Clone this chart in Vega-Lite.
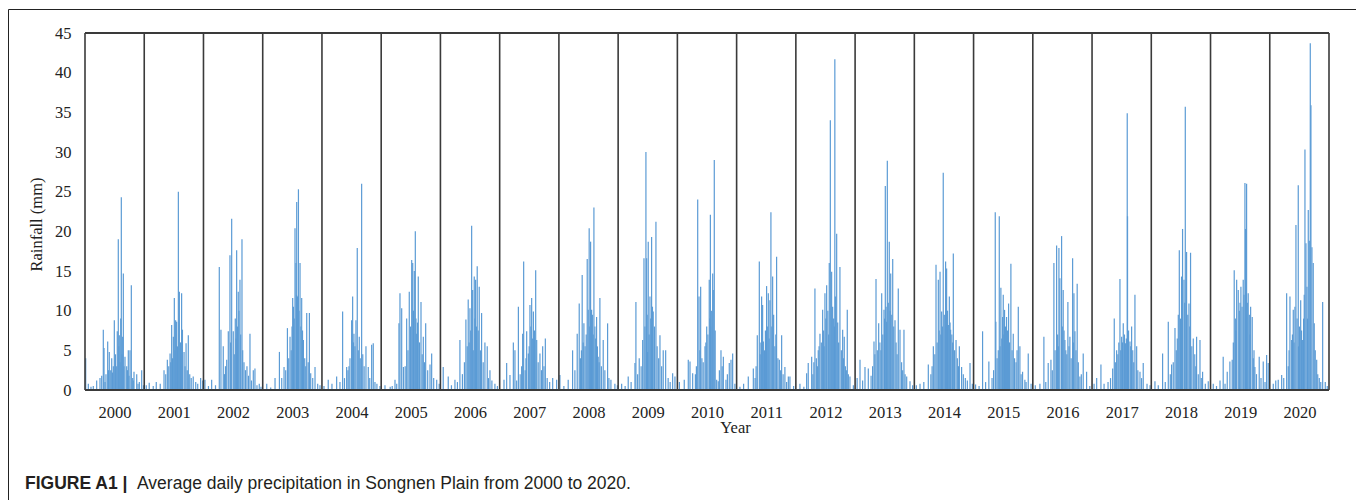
{
  "$schema": "https://vega.github.io/schema/vega-lite/v6.json",
  "width": 1348,
  "height": 520,
  "padding": {"left": 8, "top": 9, "right": 0, "bottom": 0},
  "background": "white",
  "config": {"view": {"stroke": "#222", "strokeWidth": 1}},
  "datasets": {
    "rain": [
      {"year":2000.012,"rain":4.0},{"year":2000.056,"rain":0.8},{"year":2000.101,"rain":0.4},{"year":2000.140,"rain":0.5},{"year":2000.197,"rain":1.2},{"year":2000.253,"rain":1.5},{"year":2000.282,"rain":1.8},{"year":2000.309,"rain":7.6},{"year":2000.321,"rain":5.3},{"year":2000.338,"rain":1.0},{"year":2000.354,"rain":2.0},{"year":2000.383,"rain":6.1},{"year":2000.397,"rain":2.5},{"year":2000.410,"rain":4.8},{"year":2000.434,"rain":2.5},{"year":2000.451,"rain":4.0},{"year":2000.464,"rain":2.2},{"year":2000.478,"rain":3.0},{"year":2000.495,"rain":8.8},{"year":2000.515,"rain":4.5},{"year":2000.535,"rain":3.0},{"year":2000.545,"rain":7.4},{"year":2000.562,"rain":19.0},{"year":2000.571,"rain":5.5},{"year":2000.579,"rain":6.9},{"year":2000.591,"rain":3.5},{"year":2000.603,"rain":9.0},{"year":2000.613,"rain":24.3},{"year":2000.625,"rain":4.5},{"year":2000.636,"rain":6.7},{"year":2000.647,"rain":14.7},{"year":2000.658,"rain":3.0},{"year":2000.675,"rain":4.2},{"year":2000.704,"rain":3.0},{"year":2000.717,"rain":2.5},{"year":2000.731,"rain":5.0},{"year":2000.743,"rain":1.8},{"year":2000.760,"rain":5.0},{"year":2000.782,"rain":13.2},{"year":2000.805,"rain":1.5},{"year":2000.815,"rain":1.2},{"year":2000.827,"rain":2.3},{"year":2000.873,"rain":2.0},{"year":2000.895,"rain":0.8},{"year":2000.917,"rain":1.0},{"year":2000.957,"rain":2.5},{"year":2000.987,"rain":0.6},
      {"year":2001.034,"rain":0.6},{"year":2001.084,"rain":0.9},{"year":2001.152,"rain":0.5},{"year":2001.203,"rain":1.0},{"year":2001.270,"rain":0.8},{"year":2001.334,"rain":2.5},{"year":2001.363,"rain":2.0},{"year":2001.390,"rain":3.8},{"year":2001.414,"rain":3.0},{"year":2001.436,"rain":4.6},{"year":2001.447,"rain":3.5},{"year":2001.463,"rain":8.2},{"year":2001.478,"rain":4.0},{"year":2001.491,"rain":6.7},{"year":2001.508,"rain":11.6},{"year":2001.520,"rain":5.0},{"year":2001.530,"rain":8.8},{"year":2001.547,"rain":8.6},{"year":2001.560,"rain":5.5},{"year":2001.576,"rain":25.0},{"year":2001.593,"rain":12.4},{"year":2001.611,"rain":6.0},{"year":2001.621,"rain":4.5},{"year":2001.631,"rain":12.2},{"year":2001.645,"rain":7.6},{"year":2001.672,"rain":4.8},{"year":2001.689,"rain":3.0},{"year":2001.706,"rain":5.9},{"year":2001.726,"rain":2.5},{"year":2001.744,"rain":6.9},{"year":2001.768,"rain":2.0},{"year":2001.793,"rain":1.5},{"year":2001.827,"rain":1.7},{"year":2001.869,"rain":1.0},{"year":2001.903,"rain":0.8},{"year":2001.952,"rain":1.5},{"year":2001.987,"rain":1.2},
      {"year":2002.025,"rain":1.3},{"year":2002.084,"rain":0.5},{"year":2002.138,"rain":1.3},{"year":2002.203,"rain":0.6},{"year":2002.267,"rain":15.5},{"year":2002.295,"rain":7.6},{"year":2002.334,"rain":5.5},{"year":2002.354,"rain":2.0},{"year":2002.371,"rain":3.0},{"year":2002.392,"rain":3.8},{"year":2002.419,"rain":7.4},{"year":2002.447,"rain":17.0},{"year":2002.459,"rain":6.0},{"year":2002.476,"rain":21.6},{"year":2002.503,"rain":7.4},{"year":2002.520,"rain":4.5},{"year":2002.537,"rain":9.0},{"year":2002.549,"rain":6.5},{"year":2002.560,"rain":17.6},{"year":2002.574,"rain":8.0},{"year":2002.587,"rain":12.4},{"year":2002.599,"rain":10.0},{"year":2002.616,"rain":13.9},{"year":2002.628,"rain":7.0},{"year":2002.650,"rain":19.0},{"year":2002.662,"rain":5.0},{"year":2002.684,"rain":3.5},{"year":2002.709,"rain":2.5},{"year":2002.734,"rain":3.0},{"year":2002.760,"rain":1.8},{"year":2002.785,"rain":7.1},{"year":2002.810,"rain":1.2},{"year":2002.841,"rain":2.5},{"year":2002.869,"rain":2.7},{"year":2002.903,"rain":0.6},{"year":2002.942,"rain":0.8},{"year":2002.971,"rain":0.4},
      {"year":2003.068,"rain":0.8},{"year":2003.135,"rain":0.3},{"year":2003.208,"rain":1.5},{"year":2003.282,"rain":4.8},{"year":2003.321,"rain":1.5},{"year":2003.360,"rain":2.9},{"year":2003.388,"rain":2.5},{"year":2003.417,"rain":7.8},{"year":2003.439,"rain":4.0},{"year":2003.461,"rain":6.7},{"year":2003.481,"rain":5.0},{"year":2003.495,"rain":8.0},{"year":2003.506,"rain":11.6},{"year":2003.518,"rain":10.5},{"year":2003.532,"rain":9.0},{"year":2003.545,"rain":20.4},{"year":2003.562,"rain":16.0},{"year":2003.571,"rain":12.0},{"year":2003.574,"rain":23.7},{"year":2003.586,"rain":11.8},{"year":2003.594,"rain":11.0},{"year":2003.603,"rain":25.3},{"year":2003.613,"rain":10.0},{"year":2003.630,"rain":16.0},{"year":2003.645,"rain":8.0},{"year":2003.658,"rain":11.6},{"year":2003.672,"rain":7.5},{"year":2003.687,"rain":6.3},{"year":2003.709,"rain":4.0},{"year":2003.726,"rain":3.0},{"year":2003.743,"rain":9.7},{"year":2003.768,"rain":3.5},{"year":2003.788,"rain":9.7},{"year":2003.810,"rain":2.1},{"year":2003.844,"rain":1.5},{"year":2003.883,"rain":2.9},{"year":2003.928,"rain":0.8},{"year":2003.967,"rain":0.6},
      {"year":2004.034,"rain":0.5},{"year":2004.106,"rain":1.3},{"year":2004.169,"rain":0.8},{"year":2004.248,"rain":1.7},{"year":2004.304,"rain":1.0},{"year":2004.349,"rain":9.9},{"year":2004.380,"rain":1.5},{"year":2004.417,"rain":2.9},{"year":2004.439,"rain":2.5},{"year":2004.456,"rain":3.0},{"year":2004.473,"rain":4.0},{"year":2004.501,"rain":8.8},{"year":2004.518,"rain":11.8},{"year":2004.532,"rain":6.0},{"year":2004.540,"rain":7.1},{"year":2004.557,"rain":5.5},{"year":2004.574,"rain":8.8},{"year":2004.596,"rain":17.9},{"year":2004.613,"rain":5.0},{"year":2004.630,"rain":6.7},{"year":2004.647,"rain":4.0},{"year":2004.670,"rain":26.0},{"year":2004.689,"rain":4.5},{"year":2004.712,"rain":3.0},{"year":2004.743,"rain":5.5},{"year":2004.782,"rain":2.9},{"year":2004.807,"rain":1.5},{"year":2004.839,"rain":5.7},{"year":2004.866,"rain":5.9},{"year":2004.895,"rain":1.0},{"year":2004.928,"rain":0.8},{"year":2004.979,"rain":0.5},
      {"year":2005.064,"rain":0.6},{"year":2005.152,"rain":0.4},{"year":2005.186,"rain":0.5},{"year":2005.233,"rain":1.3},{"year":2005.262,"rain":0.8},{"year":2005.300,"rain":8.4},{"year":2005.317,"rain":12.2},{"year":2005.346,"rain":10.3},{"year":2005.375,"rain":2.9},{"year":2005.405,"rain":3.0},{"year":2005.430,"rain":9.0},{"year":2005.452,"rain":5.0},{"year":2005.474,"rain":12.4},{"year":2005.495,"rain":8.0},{"year":2005.515,"rain":16.4},{"year":2005.532,"rain":16.0},{"year":2005.545,"rain":10.0},{"year":2005.559,"rain":15.0},{"year":2005.576,"rain":20.0},{"year":2005.587,"rain":9.0},{"year":2005.599,"rain":7.1},{"year":2005.613,"rain":8.5},{"year":2005.626,"rain":14.3},{"year":2005.647,"rain":6.0},{"year":2005.672,"rain":11.1},{"year":2005.692,"rain":4.5},{"year":2005.711,"rain":6.7},{"year":2005.731,"rain":3.5},{"year":2005.751,"rain":8.4},{"year":2005.785,"rain":2.5},{"year":2005.824,"rain":3.2},{"year":2005.852,"rain":4.6},{"year":2005.886,"rain":1.5},{"year":2005.937,"rain":1.3},{"year":2005.979,"rain":0.8},
      {"year":2006.047,"rain":2.9},{"year":2006.132,"rain":1.7},{"year":2006.186,"rain":0.6},{"year":2006.245,"rain":1.3},{"year":2006.287,"rain":1.0},{"year":2006.329,"rain":6.3},{"year":2006.371,"rain":2.0},{"year":2006.405,"rain":3.5},{"year":2006.430,"rain":8.9},{"year":2006.452,"rain":5.5},{"year":2006.469,"rain":11.4},{"year":2006.484,"rain":6.0},{"year":2006.498,"rain":10.3},{"year":2006.511,"rain":7.5},{"year":2006.527,"rain":20.7},{"year":2006.544,"rain":12.6},{"year":2006.554,"rain":5.0},{"year":2006.571,"rain":14.3},{"year":2006.582,"rain":9.0},{"year":2006.594,"rain":13.9},{"year":2006.608,"rain":8.0},{"year":2006.621,"rain":15.6},{"year":2006.638,"rain":7.5},{"year":2006.655,"rain":13.0},{"year":2006.675,"rain":5.0},{"year":2006.695,"rain":9.7},{"year":2006.722,"rain":3.5},{"year":2006.751,"rain":6.0},{"year":2006.790,"rain":5.5},{"year":2006.810,"rain":1.5},{"year":2006.836,"rain":2.5},{"year":2006.869,"rain":1.2},{"year":2006.920,"rain":0.8},{"year":2006.962,"rain":0.5},
      {"year":2007.073,"rain":1.3},{"year":2007.118,"rain":3.4},{"year":2007.174,"rain":1.9},{"year":2007.231,"rain":6.0},{"year":2007.258,"rain":5.0},{"year":2007.287,"rain":1.2},{"year":2007.316,"rain":10.5},{"year":2007.346,"rain":2.0},{"year":2007.371,"rain":3.0},{"year":2007.388,"rain":7.1},{"year":2007.405,"rain":16.2},{"year":2007.430,"rain":2.5},{"year":2007.444,"rain":4.0},{"year":2007.456,"rain":7.4},{"year":2007.484,"rain":4.6},{"year":2007.498,"rain":5.5},{"year":2007.511,"rain":10.7},{"year":2007.527,"rain":8.0},{"year":2007.540,"rain":11.6},{"year":2007.557,"rain":6.5},{"year":2007.569,"rain":9.9},{"year":2007.587,"rain":7.5},{"year":2007.608,"rain":15.1},{"year":2007.625,"rain":6.3},{"year":2007.650,"rain":3.5},{"year":2007.680,"rain":4.6},{"year":2007.706,"rain":2.5},{"year":2007.726,"rain":5.5},{"year":2007.748,"rain":3.0},{"year":2007.771,"rain":6.5},{"year":2007.802,"rain":1.5},{"year":2007.844,"rain":1.0},{"year":2007.895,"rain":1.5},{"year":2007.962,"rain":1.3},
      {"year":2008.017,"rain":1.9},{"year":2008.084,"rain":0.5},{"year":2008.157,"rain":1.3},{"year":2008.231,"rain":5.0},{"year":2008.270,"rain":2.5},{"year":2008.309,"rain":7.1},{"year":2008.343,"rain":10.9},{"year":2008.363,"rain":4.0},{"year":2008.380,"rain":5.0},{"year":2008.393,"rain":14.5},{"year":2008.410,"rain":6.0},{"year":2008.422,"rain":8.4},{"year":2008.442,"rain":5.5},{"year":2008.461,"rain":7.0},{"year":2008.478,"rain":16.5},{"year":2008.495,"rain":10.1},{"year":2008.511,"rain":20.4},{"year":2008.520,"rain":8.0},{"year":2008.535,"rain":18.7},{"year":2008.552,"rain":10.1},{"year":2008.565,"rain":9.5},{"year":2008.579,"rain":7.0},{"year":2008.591,"rain":23.0},{"year":2008.608,"rain":8.0},{"year":2008.621,"rain":6.5},{"year":2008.636,"rain":9.2},{"year":2008.650,"rain":5.5},{"year":2008.663,"rain":4.2},{"year":2008.679,"rain":3.5},{"year":2008.692,"rain":11.6},{"year":2008.717,"rain":3.0},{"year":2008.748,"rain":6.3},{"year":2008.776,"rain":2.5},{"year":2008.822,"rain":8.4},{"year":2008.844,"rain":1.5},{"year":2008.878,"rain":1.3},{"year":2008.945,"rain":0.8},{"year":2008.987,"rain":0.6},
      {"year":2009.059,"rain":0.8},{"year":2009.118,"rain":0.5},{"year":2009.170,"rain":1.7},{"year":2009.219,"rain":1.0},{"year":2009.284,"rain":3.4},{"year":2009.300,"rain":11.1},{"year":2009.329,"rain":2.0},{"year":2009.356,"rain":4.0},{"year":2009.388,"rain":3.0},{"year":2009.414,"rain":6.3},{"year":2009.436,"rain":16.6},{"year":2009.452,"rain":8.0},{"year":2009.469,"rain":30.0},{"year":2009.481,"rain":16.6},{"year":2009.490,"rain":9.5},{"year":2009.498,"rain":4.8},{"year":2009.508,"rain":18.7},{"year":2009.523,"rain":7.0},{"year":2009.537,"rain":11.8},{"year":2009.550,"rain":9.0},{"year":2009.565,"rain":19.3},{"year":2009.579,"rain":10.5},{"year":2009.592,"rain":9.9},{"year":2009.613,"rain":8.0},{"year":2009.638,"rain":21.2},{"year":2009.658,"rain":5.5},{"year":2009.684,"rain":4.0},{"year":2009.706,"rain":6.9},{"year":2009.734,"rain":3.0},{"year":2009.761,"rain":5.0},{"year":2009.802,"rain":5.0},{"year":2009.844,"rain":1.5},{"year":2009.878,"rain":1.0},{"year":2009.920,"rain":2.1},{"year":2009.959,"rain":1.7},
      {"year":2010.034,"rain":1.0},{"year":2010.116,"rain":1.3},{"year":2010.184,"rain":3.8},{"year":2010.213,"rain":3.6},{"year":2010.258,"rain":2.1},{"year":2010.304,"rain":2.0},{"year":2010.321,"rain":3.0},{"year":2010.343,"rain":24.0},{"year":2010.365,"rain":11.8},{"year":2010.380,"rain":5.0},{"year":2010.393,"rain":13.0},{"year":2010.414,"rain":4.0},{"year":2010.436,"rain":3.5},{"year":2010.466,"rain":5.5},{"year":2010.481,"rain":6.0},{"year":2010.495,"rain":8.0},{"year":2010.515,"rain":7.0},{"year":2010.538,"rain":13.9},{"year":2010.549,"rain":9.0},{"year":2010.557,"rain":22.1},{"year":2010.562,"rain":8.0},{"year":2010.579,"rain":10.0},{"year":2010.596,"rain":14.7},{"year":2010.606,"rain":12.6},{"year":2010.623,"rain":29.0},{"year":2010.638,"rain":7.5},{"year":2010.663,"rain":1.3},{"year":2010.690,"rain":1.1},{"year":2010.709,"rain":2.5},{"year":2010.736,"rain":5.0},{"year":2010.756,"rain":3.0},{"year":2010.776,"rain":4.2},{"year":2010.820,"rain":1.3},{"year":2010.844,"rain":2.0},{"year":2010.876,"rain":3.4},{"year":2010.905,"rain":3.8},{"year":2010.933,"rain":4.6},{"year":2010.971,"rain":0.8},
      {"year":2011.056,"rain":0.4},{"year":2011.118,"rain":0.8},{"year":2011.197,"rain":1.7},{"year":2011.282,"rain":2.7},{"year":2011.312,"rain":1.5},{"year":2011.329,"rain":3.0},{"year":2011.349,"rain":6.9},{"year":2011.383,"rain":16.2},{"year":2011.397,"rain":4.5},{"year":2011.410,"rain":6.0},{"year":2011.422,"rain":11.8},{"year":2011.439,"rain":10.7},{"year":2011.451,"rain":6.1},{"year":2011.469,"rain":5.0},{"year":2011.486,"rain":7.5},{"year":2011.506,"rain":13.1},{"year":2011.518,"rain":8.0},{"year":2011.535,"rain":12.2},{"year":2011.549,"rain":6.5},{"year":2011.562,"rain":11.3},{"year":2011.579,"rain":22.4},{"year":2011.594,"rain":8.0},{"year":2011.608,"rain":14.3},{"year":2011.625,"rain":9.5},{"year":2011.645,"rain":5.5},{"year":2011.662,"rain":7.0},{"year":2011.675,"rain":16.8},{"year":2011.697,"rain":4.0},{"year":2011.721,"rain":3.8},{"year":2011.743,"rain":2.5},{"year":2011.760,"rain":6.9},{"year":2011.785,"rain":2.0},{"year":2011.815,"rain":2.9},{"year":2011.844,"rain":1.0},{"year":2011.873,"rain":1.7},{"year":2011.900,"rain":1.7},{"year":2011.962,"rain":0.5},
      {"year":2012.069,"rain":0.8},{"year":2012.135,"rain":0.4},{"year":2012.182,"rain":2.1},{"year":2012.209,"rain":3.4},{"year":2012.267,"rain":4.2},{"year":2012.287,"rain":2.0},{"year":2012.304,"rain":3.5},{"year":2012.322,"rain":12.8},{"year":2012.346,"rain":4.0},{"year":2012.363,"rain":3.0},{"year":2012.378,"rain":5.0},{"year":2012.392,"rain":5.5},{"year":2012.407,"rain":7.1},{"year":2012.430,"rain":6.0},{"year":2012.452,"rain":10.1},{"year":2012.469,"rain":7.5},{"year":2012.478,"rain":5.5},{"year":2012.491,"rain":12.2},{"year":2012.506,"rain":9.0},{"year":2012.520,"rain":13.2},{"year":2012.540,"rain":10.0},{"year":2012.554,"rain":7.0},{"year":2012.564,"rain":16.0},{"year":2012.582,"rain":34.0},{"year":2012.604,"rain":14.9},{"year":2012.621,"rain":10.5},{"year":2012.638,"rain":9.0},{"year":2012.650,"rain":8.0},{"year":2012.658,"rain":41.7},{"year":2012.667,"rain":11.8},{"year":2012.689,"rain":19.7},{"year":2012.706,"rain":8.5},{"year":2012.722,"rain":6.0},{"year":2012.744,"rain":15.5},{"year":2012.768,"rain":5.0},{"year":2012.790,"rain":7.6},{"year":2012.802,"rain":4.0},{"year":2012.817,"rain":6.7},{"year":2012.836,"rain":3.0},{"year":2012.852,"rain":2.5},{"year":2012.868,"rain":10.1},{"year":2012.886,"rain":2.0},{"year":2012.913,"rain":1.7},{"year":2012.971,"rain":0.6},
      {"year":2013.034,"rain":1.5},{"year":2013.083,"rain":3.8},{"year":2013.127,"rain":1.2},{"year":2013.167,"rain":2.9},{"year":2013.223,"rain":2.7},{"year":2013.270,"rain":1.8},{"year":2013.295,"rain":3.0},{"year":2013.319,"rain":6.1},{"year":2013.334,"rain":4.5},{"year":2013.353,"rain":14.0},{"year":2013.375,"rain":5.0},{"year":2013.398,"rain":8.4},{"year":2013.419,"rain":6.0},{"year":2013.436,"rain":5.0},{"year":2013.449,"rain":12.2},{"year":2013.468,"rain":7.0},{"year":2013.488,"rain":10.1},{"year":2013.498,"rain":9.0},{"year":2013.510,"rain":25.7},{"year":2013.523,"rain":10.5},{"year":2013.533,"rain":8.6},{"year":2013.544,"rain":28.9},{"year":2013.560,"rain":11.0},{"year":2013.577,"rain":18.7},{"year":2013.591,"rain":10.0},{"year":2013.601,"rain":14.7},{"year":2013.619,"rain":9.5},{"year":2013.635,"rain":16.5},{"year":2013.652,"rain":8.0},{"year":2013.674,"rain":8.8},{"year":2013.692,"rain":6.0},{"year":2013.709,"rain":4.5},{"year":2013.729,"rain":12.8},{"year":2013.758,"rain":7.6},{"year":2013.785,"rain":3.5},{"year":2013.803,"rain":2.5},{"year":2013.825,"rain":7.6},{"year":2013.844,"rain":2.0},{"year":2013.871,"rain":1.7},{"year":2013.927,"rain":1.1},{"year":2013.971,"rain":0.6},
      {"year":2014.034,"rain":0.6},{"year":2014.096,"rain":0.8},{"year":2014.160,"rain":1.0},{"year":2014.236,"rain":3.2},{"year":2014.279,"rain":2.0},{"year":2014.300,"rain":3.0},{"year":2014.321,"rain":5.5},{"year":2014.346,"rain":4.5},{"year":2014.366,"rain":15.8},{"year":2014.385,"rain":6.0},{"year":2014.405,"rain":13.9},{"year":2014.419,"rain":7.5},{"year":2014.434,"rain":14.9},{"year":2014.447,"rain":7.0},{"year":2014.461,"rain":9.9},{"year":2014.473,"rain":8.0},{"year":2014.488,"rain":27.4},{"year":2014.506,"rain":9.5},{"year":2014.528,"rain":16.2},{"year":2014.545,"rain":15.3},{"year":2014.560,"rain":10.0},{"year":2014.574,"rain":8.2},{"year":2014.591,"rain":11.8},{"year":2014.603,"rain":8.5},{"year":2014.613,"rain":7.6},{"year":2014.633,"rain":7.0},{"year":2014.647,"rain":6.0},{"year":2014.658,"rain":17.2},{"year":2014.680,"rain":5.0},{"year":2014.704,"rain":6.3},{"year":2014.726,"rain":4.0},{"year":2014.746,"rain":3.0},{"year":2014.760,"rain":5.5},{"year":2014.798,"rain":2.9},{"year":2014.827,"rain":2.0},{"year":2014.861,"rain":1.5},{"year":2014.895,"rain":1.2},{"year":2014.940,"rain":3.4},{"year":2014.979,"rain":0.8},
      {"year":2015.034,"rain":0.7},{"year":2015.093,"rain":0.5},{"year":2015.152,"rain":7.4},{"year":2015.203,"rain":1.0},{"year":2015.258,"rain":3.6},{"year":2015.312,"rain":1.5},{"year":2015.338,"rain":2.5},{"year":2015.366,"rain":22.4},{"year":2015.376,"rain":8.6},{"year":2015.397,"rain":4.0},{"year":2015.417,"rain":5.0},{"year":2015.434,"rain":21.9},{"year":2015.447,"rain":5.5},{"year":2015.461,"rain":12.9},{"year":2015.476,"rain":6.5},{"year":2015.490,"rain":9.2},{"year":2015.501,"rain":12.0},{"year":2015.511,"rain":7.0},{"year":2015.523,"rain":10.1},{"year":2015.540,"rain":8.0},{"year":2015.557,"rain":9.2},{"year":2015.574,"rain":7.5},{"year":2015.591,"rain":10.9},{"year":2015.608,"rain":6.0},{"year":2015.630,"rain":15.9},{"year":2015.650,"rain":5.0},{"year":2015.670,"rain":7.1},{"year":2015.692,"rain":4.0},{"year":2015.717,"rain":3.5},{"year":2015.734,"rain":5.0},{"year":2015.755,"rain":10.5},{"year":2015.782,"rain":5.5},{"year":2015.802,"rain":2.0},{"year":2015.827,"rain":2.3},{"year":2015.866,"rain":1.3},{"year":2015.886,"rain":1.0},{"year":2015.923,"rain":4.6},{"year":2015.971,"rain":0.8},
      {"year":2016.042,"rain":0.6},{"year":2016.120,"rain":0.8},{"year":2016.187,"rain":6.7},{"year":2016.219,"rain":1.0},{"year":2016.260,"rain":3.4},{"year":2016.306,"rain":3.8},{"year":2016.329,"rain":2.5},{"year":2016.356,"rain":16.0},{"year":2016.376,"rain":5.0},{"year":2016.402,"rain":18.2},{"year":2016.419,"rain":7.0},{"year":2016.430,"rain":5.5},{"year":2016.441,"rain":17.9},{"year":2016.457,"rain":14.1},{"year":2016.486,"rain":19.4},{"year":2016.498,"rain":8.0},{"year":2016.513,"rain":12.6},{"year":2016.527,"rain":7.5},{"year":2016.542,"rain":6.3},{"year":2016.557,"rain":5.0},{"year":2016.574,"rain":4.5},{"year":2016.592,"rain":11.1},{"year":2016.611,"rain":5.5},{"year":2016.626,"rain":6.7},{"year":2016.647,"rain":4.0},{"year":2016.672,"rain":16.6},{"year":2016.684,"rain":6.0},{"year":2016.694,"rain":12.2},{"year":2016.711,"rain":7.4},{"year":2016.729,"rain":5.0},{"year":2016.749,"rain":13.4},{"year":2016.768,"rain":3.5},{"year":2016.795,"rain":1.7},{"year":2016.819,"rain":2.0},{"year":2016.851,"rain":4.6},{"year":2016.908,"rain":2.3},{"year":2016.962,"rain":0.5},
      {"year":2017.034,"rain":0.8},{"year":2017.078,"rain":1.5},{"year":2017.150,"rain":3.2},{"year":2017.203,"rain":0.8},{"year":2017.270,"rain":1.0},{"year":2017.312,"rain":1.5},{"year":2017.348,"rain":2.7},{"year":2017.375,"rain":9.0},{"year":2017.393,"rain":3.5},{"year":2017.415,"rain":5.0},{"year":2017.436,"rain":4.5},{"year":2017.452,"rain":6.0},{"year":2017.471,"rain":14.0},{"year":2017.484,"rain":5.0},{"year":2017.500,"rain":6.7},{"year":2017.515,"rain":6.0},{"year":2017.527,"rain":8.4},{"year":2017.547,"rain":7.0},{"year":2017.567,"rain":5.9},{"year":2017.579,"rain":6.5},{"year":2017.594,"rain":34.9},{"year":2017.599,"rain":21.9},{"year":2017.616,"rain":7.5},{"year":2017.640,"rain":6.1},{"year":2017.653,"rain":5.5},{"year":2017.668,"rain":8.0},{"year":2017.687,"rain":5.0},{"year":2017.704,"rain":3.5},{"year":2017.724,"rain":12.0},{"year":2017.753,"rain":5.5},{"year":2017.773,"rain":2.5},{"year":2017.809,"rain":2.3},{"year":2017.836,"rain":1.5},{"year":2017.864,"rain":3.4},{"year":2017.928,"rain":0.8},{"year":2017.979,"rain":0.6},
      {"year":2018.062,"rain":1.1},{"year":2018.118,"rain":0.6},{"year":2018.191,"rain":4.6},{"year":2018.236,"rain":1.0},{"year":2018.287,"rain":8.6},{"year":2018.321,"rain":2.0},{"year":2018.343,"rain":3.2},{"year":2018.371,"rain":3.5},{"year":2018.400,"rain":7.8},{"year":2018.422,"rain":5.0},{"year":2018.439,"rain":6.5},{"year":2018.456,"rain":9.5},{"year":2018.473,"rain":17.6},{"year":2018.493,"rain":9.0},{"year":2018.511,"rain":14.3},{"year":2018.528,"rain":20.3},{"year":2018.552,"rain":13.9},{"year":2018.564,"rain":11.0},{"year":2018.574,"rain":35.7},{"year":2018.596,"rain":17.4},{"year":2018.616,"rain":9.5},{"year":2018.636,"rain":10.9},{"year":2018.650,"rain":8.0},{"year":2018.663,"rain":17.3},{"year":2018.684,"rain":5.5},{"year":2018.709,"rain":6.5},{"year":2018.734,"rain":4.5},{"year":2018.751,"rain":3.0},{"year":2018.765,"rain":6.7},{"year":2018.793,"rain":2.0},{"year":2018.822,"rain":6.3},{"year":2018.844,"rain":1.5},{"year":2018.866,"rain":2.3},{"year":2018.912,"rain":0.8},{"year":2018.962,"rain":1.1},
      {"year":2019.046,"rain":0.8},{"year":2019.101,"rain":0.5},{"year":2019.160,"rain":1.2},{"year":2019.214,"rain":4.2},{"year":2019.245,"rain":0.8},{"year":2019.282,"rain":2.3},{"year":2019.327,"rain":3.6},{"year":2019.366,"rain":3.8},{"year":2019.385,"rain":6.0},{"year":2019.400,"rain":15.1},{"year":2019.419,"rain":9.0},{"year":2019.430,"rain":7.5},{"year":2019.441,"rain":13.9},{"year":2019.468,"rain":12.6},{"year":2019.486,"rain":10.0},{"year":2019.498,"rain":11.0},{"year":2019.513,"rain":13.0},{"year":2019.532,"rain":10.5},{"year":2019.552,"rain":13.9},{"year":2019.565,"rain":12.0},{"year":2019.581,"rain":26.1},{"year":2019.591,"rain":20.3},{"year":2019.609,"rain":26.0},{"year":2019.621,"rain":11.0},{"year":2019.636,"rain":12.2},{"year":2019.655,"rain":9.5},{"year":2019.667,"rain":7.0},{"year":2019.677,"rain":10.5},{"year":2019.704,"rain":9.2},{"year":2019.722,"rain":4.0},{"year":2019.734,"rain":5.0},{"year":2019.749,"rain":2.9},{"year":2019.776,"rain":2.0},{"year":2019.822,"rain":4.2},{"year":2019.852,"rain":1.5},{"year":2019.890,"rain":3.6},{"year":2019.920,"rain":1.0},{"year":2019.947,"rain":4.4},{"year":2019.974,"rain":3.4},
      {"year":2020.059,"rain":0.8},{"year":2020.101,"rain":1.2},{"year":2020.143,"rain":1.3},{"year":2020.201,"rain":1.9},{"year":2020.236,"rain":1.5},{"year":2020.285,"rain":12.2},{"year":2020.312,"rain":3.0},{"year":2020.326,"rain":5.0},{"year":2020.341,"rain":11.8},{"year":2020.370,"rain":6.3},{"year":2020.383,"rain":7.0},{"year":2020.397,"rain":10.1},{"year":2020.410,"rain":6.0},{"year":2020.425,"rain":10.5},{"year":2020.442,"rain":20.8},{"year":2020.461,"rain":9.0},{"year":2020.481,"rain":25.8},{"year":2020.486,"rain":5.5},{"year":2020.503,"rain":8.0},{"year":2020.522,"rain":11.3},{"year":2020.537,"rain":7.5},{"year":2020.555,"rain":6.3},{"year":2020.571,"rain":9.0},{"year":2020.582,"rain":12.0},{"year":2020.594,"rain":30.3},{"year":2020.611,"rain":18.5},{"year":2020.628,"rain":13.0},{"year":2020.638,"rain":9.0},{"year":2020.650,"rain":22.7},{"year":2020.667,"rain":18.8},{"year":2020.684,"rain":43.7},{"year":2020.695,"rain":35.9},{"year":2020.712,"rain":18.0},{"year":2020.734,"rain":16.0},{"year":2020.751,"rain":8.4},{"year":2020.768,"rain":5.0},{"year":2020.792,"rain":3.8},{"year":2020.810,"rain":2.0},{"year":2020.836,"rain":1.5},{"year":2020.861,"rain":1.0},{"year":2020.893,"rain":11.1},{"year":2020.937,"rain":1.0},{"year":2020.971,"rain":0.5}
    ],
    "bounds": [{"year":2000},{"year":2001},{"year":2002},{"year":2003},{"year":2004},{"year":2005},{"year":2006},{"year":2007},{"year":2008},{"year":2009},{"year":2010},{"year":2011},{"year":2012},{"year":2013},{"year":2014},{"year":2015},{"year":2016},{"year":2017},{"year":2018},{"year":2019},{"year":2020},{"year":2021}],
    "frame": [{"rain":0},{"rain":45}]
  },
  "layer": [
    {
      "data": {"name": "rain"},
      "mark": {"type": "rule", "color": "#5B9BD5", "strokeWidth": 1.2},
      "encoding": {
        "x": {
          "field": "year", "type": "quantitative",
          "scale": {"domain": [2000, 2021], "range": [77, 1321], "nice": false, "zero": false},
          "axis": {
            "orient": "bottom", "offset": -139,
            "values": [2000.5,2001.5,2002.5,2003.5,2004.5,2005.5,2006.5,2007.5,2008.5,2009.5,2010.5,2011.5,2012.5,2013.5,2014.5,2015.5,2016.5,2017.5,2018.5,2019.5,2020.5],
            "labelExpr": "floor(datum.value)",
            "domain": false, "ticks": false, "tickSize": 0, "grid": false,
            "labelFont": "Liberation Serif", "labelFontSize": 16.5, "labelColor": "#222",
            "labelPadding": 27, "labelBaseline": "alphabetic", "labelAlign": "center", "labelOverlap": false,
            "title": "Year", "titleFont": "Liberation Serif", "titleFontSize": 16.5, "titleFontWeight": "normal", "titleColor": "#222",
            "titleX": 727, "titleY": 42, "titleBaseline": "alphabetic", "titleAlign": "center"
          }
        },
        "y": {
          "field": "rain", "type": "quantitative",
          "scale": {"domain": [0, 45], "range": [381, 24], "nice": false, "zero": false},
          "axis": {
            "orient": "left", "offset": -77,
            "values": [0,5,10,15,20,25,30,35,40,45],
            "domain": false, "ticks": false, "tickSize": 0, "grid": false,
            "labelFont": "Liberation Serif", "labelFontSize": 16.5, "labelColor": "#222", "labelPadding": 14,
            "title": "Rainfall (mm)", "titleFont": "Liberation Serif", "titleFontSize": 16.5, "titleFontWeight": "normal", "titleColor": "#222",
            "titleAngle": 270, "titleX": -44, "titleY": 215, "titleBaseline": "alphabetic", "titleAlign": "center"
          }
        },
        "y2": {"datum": 0}
      }
    },
    {
      "data": {"name": "bounds"},
      "mark": {"type": "rule", "color": "#3a3a3a", "strokeWidth": 1.6},
      "encoding": {
        "x": {"field": "year", "type": "quantitative"},
        "y": {"datum": 0},
        "y2": {"datum": 45}
      }
    },
    {
      "data": {"name": "frame"},
      "mark": {"type": "rule", "color": "#3a3a3a", "strokeWidth": 1.8},
      "encoding": {
        "y": {"field": "rain", "type": "quantitative"},
        "x": {"datum": 2000},
        "x2": {"datum": 2021}
      }
    },
    {
      "data": {"values": [{"part": "FIGURE A1 |"}]},
      "mark": {"type": "text", "font": "Liberation Sans", "fontSize": 17.5, "fontWeight": "bold", "color": "#231f20", "align": "left", "baseline": "alphabetic"},
      "encoding": {
        "text": {"field": "part"},
        "x": {"datum": 1998.987},
        "y": {"datum": -12.54}
      }
    },
    {
      "data": {"values": [{"part": "Average daily precipitation in Songnen Plain from 2000 to 2020."}]},
      "mark": {"type": "text", "font": "Liberation Sans", "fontSize": 17.5, "fontWeight": "normal", "color": "#231f20", "align": "left", "baseline": "alphabetic"},
      "encoding": {
        "text": {"field": "part"},
        "x": {"datum": 2000.878},
        "y": {"datum": -12.54}
      }
    }
  ]
}
